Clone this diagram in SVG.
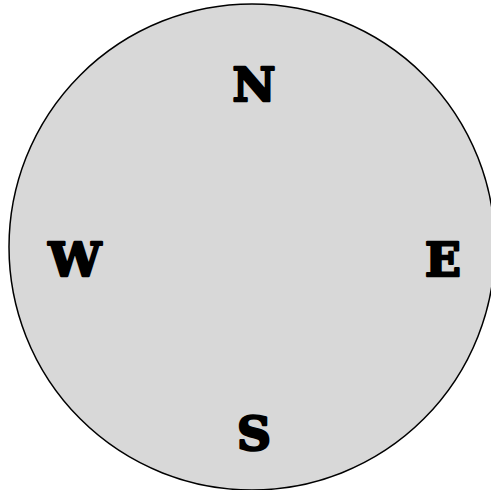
<svg xmlns="http://www.w3.org/2000/svg" width="491" height="490" viewBox="0 0 491 490">
<style>
.lbl{font-family:"DejaVu Serif","Liberation Serif",serif;font-weight:900;font-size:47px;fill:#000;stroke:#000;stroke-width:2.5;stroke-linejoin:round;text-anchor:middle}
</style>
<rect width="491" height="490" fill="#fff"/>
<g id="compass">
<circle cx="252" cy="247" r="243" fill="#d8d8d8" stroke="#000" stroke-width="1.5"/>
</g>
<g id="connectors"></g>
<g id="N"><text class="lbl" x="254" y="101">N</text></g>
<g id="W"><text class="lbl" x="75" y="276">W</text></g>
<g id="E"><text class="lbl" x="443" y="276">E</text></g>
<g id="S"><text class="lbl" x="254" y="450">S</text></g>
</svg>
